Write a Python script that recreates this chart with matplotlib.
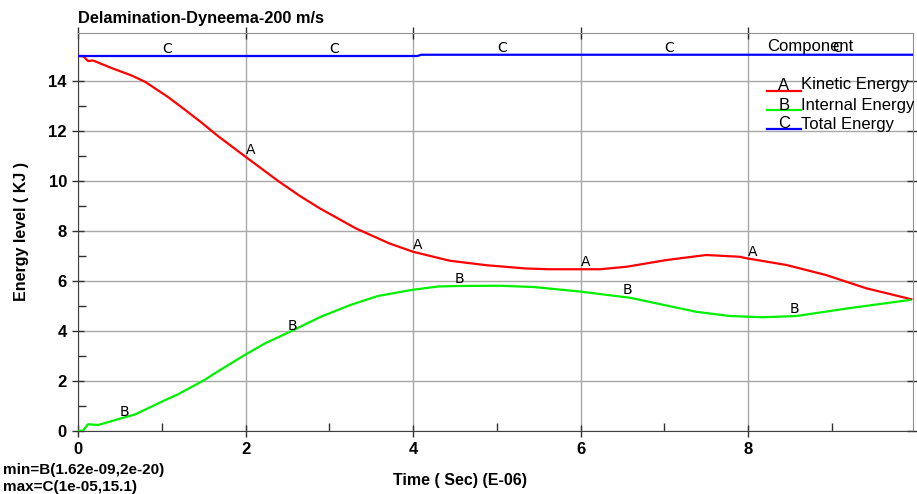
import numpy as np
import matplotlib
matplotlib.use("Agg")
from matplotlib import pyplot as plt
from matplotlib.ticker import MultipleLocator

# Time (E-06 s) and energy (KJ)
t_kin = [0.0, 0.06, 0.12, 0.18, 0.40, 0.64, 0.80, 1.07, 1.23, 1.47, 1.67, 2.0, 2.39,
         2.65, 2.89, 3.32, 3.72, 4.0, 4.44, 4.88, 5.35, 5.63, 5.99, 6.23, 6.55,
         7.03, 7.5, 7.9, 7.98, 8.46, 8.93, 9.41, 9.95]
kinetic = [15.0, 15.0, 14.8, 14.82, 14.52, 14.22, 13.97, 13.37, 12.97, 12.35, 11.8, 10.97, 10.0,
           9.4, 8.9, 8.1, 7.5, 7.17, 6.81, 6.63, 6.5, 6.47, 6.47, 6.47, 6.57,
           6.84, 7.04, 6.97, 6.91, 6.64, 6.24, 5.71, 5.27]

t_int = [0.0, 0.06, 0.12, 0.24, 0.56, 0.68, 1.03, 1.19, 1.51, 1.63, 1.99, 2.23, 2.55,
         2.90, 3.26, 3.58, 3.98, 4.30, 4.52, 5.04, 5.44, 5.99, 6.47, 6.59, 7.38,
         7.78, 8.18, 8.58, 9.18, 9.93]
internal = [0.0, 0.02, 0.27, 0.24, 0.55, 0.66, 1.22, 1.46, 2.04, 2.3, 3.04, 3.5, 4.0,
            4.57, 5.05, 5.4, 5.64, 5.78, 5.8, 5.81, 5.76, 5.58, 5.38, 5.33, 4.77,
            4.6, 4.55, 4.6, 4.9, 5.24]

t_tot = [0.0, 4.05, 4.1, 9.97]
total = [15.0, 15.0, 15.05, 15.05]

names = ["Kinetic Energy", "Internal Energy", "Total Energy"]
letters = ["A", "B", "C"]
colors = ["#ff0000", "#00f000", "#0000ff"]
label_x = [[2, 4, 6, 8], [0.5, 2.5, 4.5, 6.5, 8.5], [1, 3, 5, 7, 9]]

plt.rcParams["font.family"] = ["Liberation Sans", "DejaVu Sans"]

fig = plt.figure(figsize=(9.17, 4.94), dpi=100)
ax = fig.add_axes([78 / 917, 1 - 431 / 494, 835 / 917, 398 / 494])

series = [(t_kin, kinetic), (t_int, internal), (t_tot, total)]
for (tx, ty), c in zip(series, colors):
    ax.plot(tx, ty, color=c, lw=1.6, zorder=3)

# curve letters
for (tx, ty), let, xs in zip(series, letters, label_x):
    for xv in xs:
        yv = np.interp(xv, tx, ty)
        ax.text(xv, yv, let, fontsize=10, ha="left", va="bottom", zorder=4,
                family=["DejaVu Sans"])

ax.set_xlim(0, 9.97)
ax.set_ylim(0, 15.92)
ax.xaxis.set_major_locator(MultipleLocator(2))
ax.xaxis.set_minor_locator(MultipleLocator(1))
ax.yaxis.set_major_locator(MultipleLocator(2))
ax.yaxis.set_minor_locator(MultipleLocator(1))
ax.grid(True, which="major", color="#a8a8a8", lw=1.0)
ax.tick_params(which="major", direction="inout", length=9, width=1, color="#303030",
               top=True, right=True)
ax.tick_params(which="minor", direction="in", length=6, width=1, color="#303030")
for lab in ax.get_xticklabels() + ax.get_yticklabels():
    lab.set_fontweight("bold")
    lab.set_fontsize(12)
for s in ["left", "bottom"]:
    ax.spines[s].set_color("#404040")
for s in ["top", "right"]:
    ax.spines[s].set_color("#909090")

ax.set_ylabel("Energy level ( KJ )", fontsize=11.5, fontweight="bold", labelpad=14)

fig.text(78 / 917, 1 - 19 / 494, "Delamination-Dyneema-200 m/s", fontsize=11.8,
         fontweight="bold", va="center", ha="left")
fig.text(460 / 917, 1 - 480 / 494, "Time ( Sec) (E-06)", fontsize=11.5, fontweight="bold",
         ha="center", va="center")
fig.text(3 / 917, 1 - 470 / 494, "min=B(1.62e-09,2e-20)", fontsize=11, fontweight="bold",
         ha="left", va="center")
fig.text(3 / 917, 1 - 487 / 494, "max=C(1e-05,15.1)", fontsize=11, fontweight="bold",
         ha="left", va="center")

# hand-drawn legend like the original plot program
fig.text(767 / 917, 1 - 46 / 494, "Component", fontsize=12, ha="left", va="center")
rows = [(85, 91), (105, 110), (124, 129)]
for (ty, ly), let, name, c in zip(rows, letters, names, colors):
    fig.add_artist(plt.Line2D([767 / 917, 801 / 917], [1 - ly / 494, 1 - ly / 494],
                              color=c, lw=1.6))
    fig.text(784 / 917, 1 - ty / 494, let, fontsize=12, ha="center", va="center")
    fig.text(801 / 917, 1 - ty / 494, name, fontsize=12, ha="left", va="center")

fig.savefig("out.png", dpi=100)
